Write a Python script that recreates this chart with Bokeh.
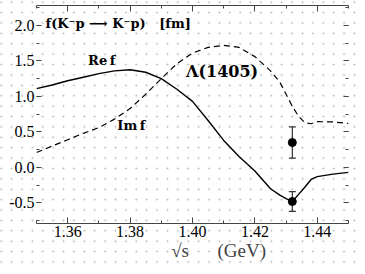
from bokeh.plotting import figure
from bokeh.models import (LinearAxis, SingleIntervalTicker, NumeralTickFormatter,
                          Range1d, CustomJSTickFormatter)
from bokeh.core.properties import value
from bokeh.embed import file_html
from bokeh.resources import INLINE

# ---- data ----
sqrt_s = [1.350, 1.355, 1.360, 1.365, 1.370, 1.375, 1.380, 1.385, 1.390, 1.395,
          1.400, 1.405, 1.410, 1.415, 1.420, 1.425, 1.428, 1.430, 1.432, 1.434,
          1.436, 1.438, 1.440, 1.445, 1.450]
re_f = [1.11, 1.16, 1.22, 1.27, 1.32, 1.36, 1.375, 1.34, 1.25, 1.10,
        0.93, 0.66, 0.38, 0.15, -0.05, -0.30, -0.39, -0.44, -0.48, -0.38,
        -0.28, -0.17, -0.13, -0.095, -0.07]
im_f = [0.21, 0.30, 0.39, 0.48, 0.56, 0.68, 0.83, 1.03, 1.25, 1.46,
        1.61, 1.69, 1.72, 1.69, 1.56, 1.36, 1.20, 1.03, 0.86, 0.72,
        0.63, 0.615, 0.645, 0.64, 0.62]

data_x = [1.432, 1.432]
data_y = [0.35, -0.48]
data_err = [0.22, 0.14]

x_ticks_major = 0.02
y_ticks_major = 0.5

serif = "Liberation Serif"
bold_serif = "DejaVu Serif"
NB = "\u00a0"

p = figure(width=357, height=266,
           x_range=Range1d(1.35, 1.45), y_range=Range1d(-0.79, 2.28),
           output_backend="svg", toolbar_location=None,
           min_border_left=36, min_border_right=9, min_border_top=5,
           min_border_bottom=43,
           background_fill_color=None, border_fill_color=None,
           outline_line_color=None,
           styles={"background-image": "radial-gradient(circle, #b8b8b8 0.8px, rgba(255,255,255,0) 1.1px)",
                   "background-size": "10.4px 10.4px",
                   "background-position": "-4px -3px",
                   "background-color": "white"})

p.xgrid.grid_line_color = None
p.ygrid.grid_line_color = None

xt = SingleIntervalTicker(interval=x_ticks_major, num_minor_ticks=2)
yt = SingleIntervalTicker(interval=y_ticks_major, num_minor_ticks=2)
blank = CustomJSTickFormatter(code="return ''")

# bottom axis
xa = p.xaxis[0]
xa.ticker = xt
xa.formatter = NumeralTickFormatter(format="0.00")
xa.major_tick_in = 6
xa.major_tick_out = 0
xa.minor_tick_in = 3
xa.minor_tick_out = 0
xa.major_label_standoff = 2
xa.major_label_text_font = serif
xa.major_label_text_font_size = "16px"
xa.major_label_text_color = "black"
xa.axis_line_color = "#444444"
xa.major_tick_line_color = "#444444"
xa.minor_tick_line_color = "#444444"
xa.axis_label = NB * 11 + "\u221as" + NB * 6 + "(GeV)"
xa.axis_label_text_font = serif
xa.axis_label_text_font_size = "19px"
xa.axis_label_text_font_style = "normal"
xa.axis_label_standoff = 0

# left axis
ya = p.yaxis[0]
ya.ticker = yt
ya.formatter = NumeralTickFormatter(format="0.0")
ya.major_tick_in = 5
ya.major_tick_out = 0
ya.minor_tick_in = 3
ya.minor_tick_out = 0
ya.major_label_standoff = 2
ya.major_label_text_font = serif
ya.major_label_text_font_size = "16px"
ya.major_label_text_color = "black"
ya.axis_line_color = None
ya.major_tick_line_color = "#444444"
ya.minor_tick_line_color = "#444444"

# top axis (ticks only)
top = LinearAxis(ticker=xt, formatter=blank, major_label_standoff=0,
                 major_tick_in=6, major_tick_out=0, minor_tick_in=3, minor_tick_out=0,
                 axis_line_color="#444444", major_tick_line_color="#444444",
                 minor_tick_line_color="#444444")
p.add_layout(top, "above")

# right axis (ticks only)
right = LinearAxis(ticker=yt, formatter=blank, major_label_standoff=0,
                   major_tick_in=5, major_tick_out=0, minor_tick_in=3, minor_tick_out=0,
                   axis_line_color=None, major_tick_line_color="#444444",
                   minor_tick_line_color="#444444")
p.add_layout(right, "right")

# curves
p.line(sqrt_s, re_f, line_color="black", line_width=1.4)
p.line(sqrt_s, im_f, line_color="black", line_width=1.2, line_dash="6 4")

# data points with error bars
lo = [y - e for y, e in zip(data_y, data_err)]
hi = [y + e for y, e in zip(data_y, data_err)]
p.segment(x0=data_x, y0=lo, x1=data_x, y1=hi, line_color="#333333", line_width=1.2)
p.scatter(x=data_x + data_x, y=lo + hi, marker="dash", size=7, line_color="#333333",
          line_width=1.2)
p.scatter(x=data_x, y=data_y, size=8, fill_color="black", line_color="black")

# annotations
p.text(x=[1.3529], y=[2.03],
       text=["f(K\u207bp" + NB + "\u27f6" + NB + "K\u207bp)" + NB * 3 + "[fm]"],
       text_font=value(bold_serif), text_font_style="bold", text_font_size="13px",
       text_baseline="middle", text_align="left", text_color="black")
p.text(x=[1.3709], y=[1.51], text=["Re\u2009f"], text_font=value(bold_serif),
       text_font_style="bold", text_font_size="13px", text_baseline="middle",
       text_align="center", text_color="black")
p.text(x=[1.3804], y=[0.59], text=["Im\u2009f"], text_font=value(bold_serif),
       text_font_style="bold", text_font_size="13px", text_baseline="middle",
       text_align="center", text_color="black")
p.text(x=[1.4095], y=[1.345], text=["\u039b(1405)"], text_font=value(bold_serif),
       text_font_style="bold", text_font_size="16px", text_baseline="middle",
       text_align="center", text_color="black")

open("out.html", "w").write(file_html(p, INLINE))
